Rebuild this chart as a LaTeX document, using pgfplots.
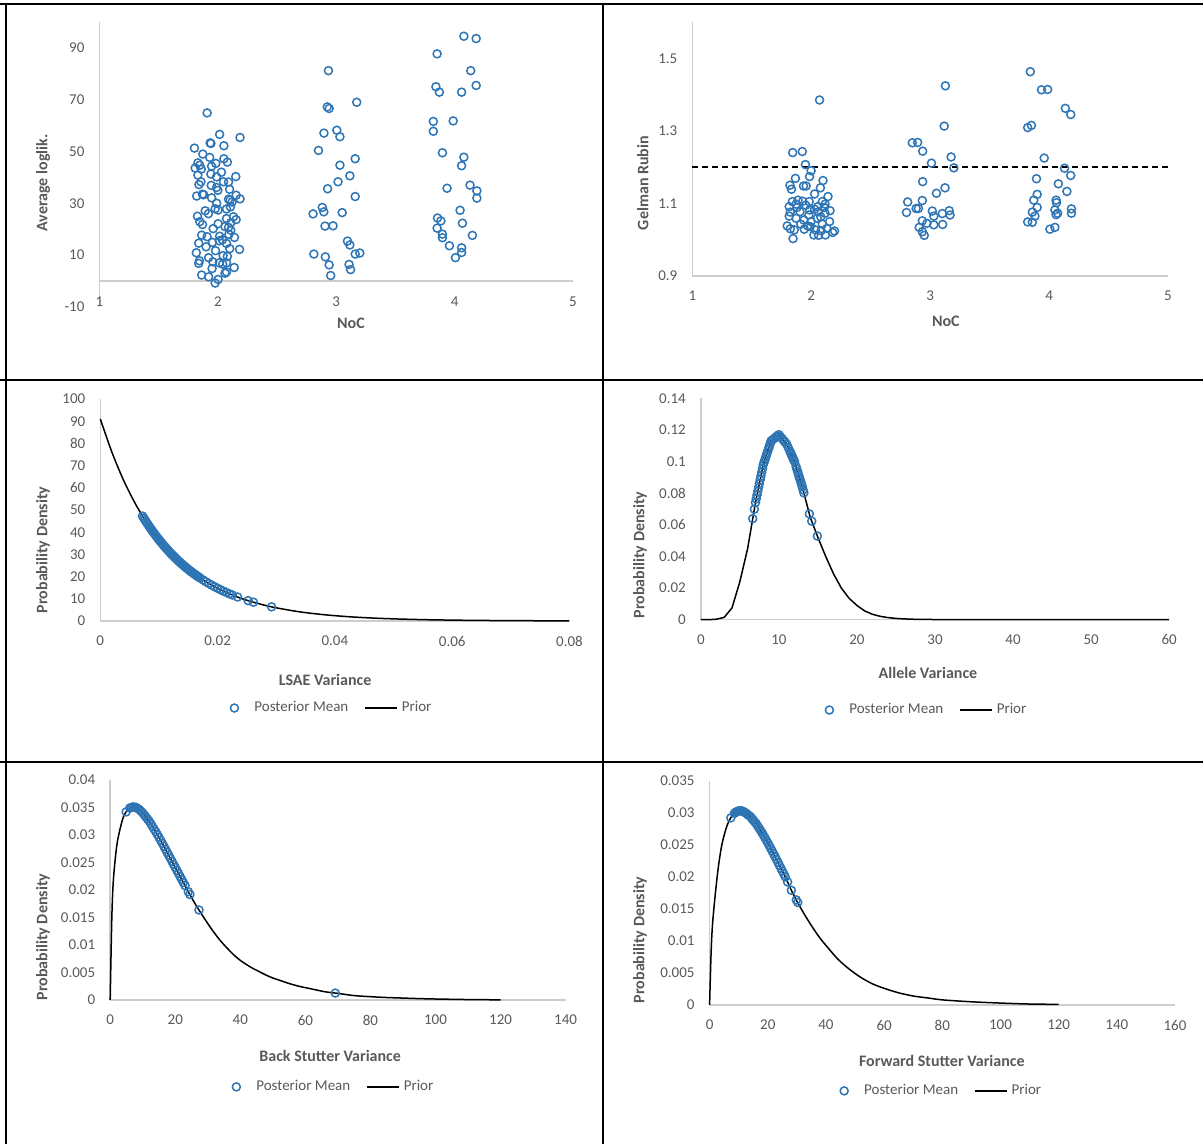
\documentclass[border=0pt]{standalone}
\usepackage{fontspec}
\setmainfont{Carlito}
\usepackage{pgfplots}
\pgfplotsset{compat=1.18}
\definecolor{myblue}{RGB}{46,117,182}
\definecolor{txtgray}{RGB}{89,89,89}
\definecolor{axgray}{RGB}{205,205,205}
\pgfplotsset{
  panel/.style={
    scale only axis,
    axis lines*=left,
    axis line style={draw=axgray, line width=0.75pt},
    tick style={draw=none},
    major tick length=0pt,
    tick label style={font=\fontsize{7.5}{9}\selectfont, text=txtgray},
    label style={font=\bfseries\fontsize{8}{10}\selectfont, text=txtgray},
    /pgf/number format/assume math mode=true,
    /pgf/number format/fixed,
    /pgf/number format/precision=3,
    /pgf/number format/1000 sep={},
    scaled ticks=false,
    clip=false,
    yticklabel style={xshift=-4pt},
    legend style={draw=none, fill=none, font=\fontsize{7.5}{9}\selectfont, text=txtgray,
      legend columns=2, anchor=center,
      /tikz/every even column/.append style={column sep=6pt}},
  },
  post/.style={only marks, mark=o, mark size=2pt,
    mark options={draw=myblue, line width=0.75pt},
    legend image code/.code={\draw[draw=myblue, line width=0.75pt] (2pt,0pt) circle (2pt); \path[draw=none, fill=none] (0pt,0pt) rectangle (10pt,0.1pt);}},
  prior/.style={black, line width=0.75pt, smooth,
    legend image code/.code={\draw[black, line width=0.75pt] (0pt,0pt) -- (16pt,0pt);}},
}
\begin{document}
\begin{tikzpicture}[x=0.5pt,y=0.5pt]
\path[use as bounding box] (0,0) rectangle (1203,1144);
\draw[line width=0.6pt] (0,1140) -- (1203,1140);
\draw[line width=1pt] (0,764) -- (1203,764);
\draw[line width=1pt] (0,382) -- (1203,382);
\draw[line width=1pt] (603,1140) -- (603,0);
\draw[line width=1pt] (6,1140) -- (6,0);

% ---------- Panel 1 ----------
\begin{axis}[panel, at={(49.75pt,418.55pt)}, anchor=south west,
  width=236.75pt, height=142.45pt,
  xmin=1, xmax=5, ymin=-10, ymax=100,
  xtick={1,2,3,4,5}, ytick={-10,10,30,50,70,90},
  x axis line style={draw=none},
  xticklabel style={yshift=8.5pt},
  xlabel={NoC}, ylabel={Average loglik.},
  xlabel style={at={(axis description cs:0.531,-0.0565)}, anchor=center},
  ylabel style={at={(axis description cs:-0.119,0.435)}, anchor=center},
]
\addplot[axgray, line width=0.75pt] coordinates {(1,0) (5,0)};
\addplot[post] table {
1.909 64.9
2.015 56.6
2.187 55.4
1.935 53.3
1.941 53.1
2.051 52.2
1.802 51.3
1.873 49.0
1.931 47.7
2.051 47.2
1.983 45.4
2.080 45.9
1.831 45.6
1.847 44.7
1.947 44.3
1.808 43.6
1.860 43.2
1.941 41.3
1.831 40.9
1.989 40.2
2.151 40.3
1.857 38.3
2.048 38.3
2.090 38.2
1.944 36.9
1.989 36.1
2.099 35.4
1.821 32.8
1.880 33.3
1.947 32.1
2.154 33.1
2.090 31.6
2.187 31.7
2.103 31.2
1.893 27.1
1.977 27.9
2.002 27.4
2.073 27.8
2.106 28.6
1.828 25.0
1.847 22.9
2.002 22.1
2.073 24.1
2.132 24.8
2.154 23.7
2.109 22.5
2.090 20.7
2.109 19.6
2.093 18.0
1.863 17.7
1.909 17.1
2.015 17.3
2.038 15.9
2.012 15.5
1.954 14.9
1.838 14.6
2.073 14.5
2.183 12.2
1.980 11.7
1.818 10.9
2.044 9.8
1.922 9.0
1.844 7.8
1.838 6.8
1.957 7.4
2.012 7.0
2.041 6.5
2.073 7.0
2.138 5.2
1.951 4.8
2.073 3.5
1.863 2.3
1.922 1.6
2.002 0.6
1.977 -0.8
1.870 33.5
2.120 30.5
1.960 20.2
2.060 21.0
2.100 12.5
1.900 13.2
2.060 3.0
1.870 21.8
2.000 35.0
2.140 16.8
1.840 37.2
1.920 26.0
2.080 9.5
2.030 42.0
1.990 30.0
2.934 81.2
2.924 67.2
2.940 66.6
3.173 69.0
3.005 58.2
2.896 57.1
3.031 55.7
2.850 50.4
3.160 47.2
3.031 44.7
3.115 40.6
3.015 38.3
2.927 35.6
3.160 32.6
2.882 28.4
2.895 26.7
2.804 25.9
3.050 26.4
2.905 21.2
2.973 21.3
3.095 15.4
3.115 13.9
3.160 10.4
3.199 10.8
2.811 10.4
2.908 9.3
2.940 6.2
3.108 6.4
3.121 4.4
2.953 2.1
4.078 94.5
4.182 93.6
3.852 87.7
4.136 81.2
3.842 75.0
3.871 72.9
4.182 75.5
4.059 72.9
3.820 61.6
3.988 61.8
3.820 57.8
3.897 49.5
4.078 47.8
4.059 44.5
4.130 37.0
3.936 35.8
4.188 34.8
4.188 32.0
4.046 27.3
3.855 24.3
3.884 23.2
4.066 22.3
3.852 20.4
3.897 18.1
3.897 16.7
4.150 17.6
3.956 13.6
4.059 12.8
4.059 11.0
4.007 9.0
};
\end{axis}

% ---------- Panel 2 ----------
\begin{axis}[panel, at={(346.15pt,434pt)}, anchor=south west,
  width=237.85pt, height=127pt,
  xmin=1, xmax=5, ymin=0.9, ymax=1.6,
  xtick={1,2,3,4,5}, ytick={0.9,1.1,1.3,1.5},
  xticklabel style={yshift=-4pt},
  y axis line style={draw=none},
  xlabel={NoC}, ylabel={Gelman Rubin},
  xlabel style={at={(axis description cs:0.533,-0.177)}, anchor=center},
  ylabel style={at={(axis description cs:-0.104,0.366)}, anchor=center},
]
\addplot[axgray, line width=0.75pt] coordinates {(1,0.9) (1,1.6)};
\addplot[black, line width=1pt, dash pattern=on 3pt off 2pt] coordinates {(1,1.2) (5,1.2)};
\addplot[post] table {
2.070 1.385
1.844 1.240
1.925 1.243
1.951 1.207
1.999 1.190
1.986 1.174
2.099 1.163
1.867 1.169
1.821 1.150
1.834 1.139
1.935 1.148
1.957 1.148
2.077 1.143
2.028 1.126
2.141 1.119
1.889 1.109
1.841 1.105
1.928 1.106
1.983 1.105
2.093 1.105
1.815 1.091
1.873 1.098
1.954 1.095
2.054 1.091
2.116 1.098
2.158 1.080
1.824 1.076
1.905 1.077
1.986 1.082
2.061 1.077
2.116 1.073
1.815 1.065
1.873 1.059
1.938 1.054
1.999 1.050
2.051 1.059
2.154 1.050
1.798 1.038
1.824 1.030
1.857 1.027
1.941 1.029
1.992 1.036
2.035 1.027
2.083 1.025
2.022 1.013
2.061 1.012
2.119 1.013
2.180 1.020
2.196 1.024
1.847 1.003
1.912 1.043
1.970 1.038
2.093 1.043
2.132 1.031
1.880 1.089
2.028 1.084
2.109 1.089
1.980 1.068
2.080 1.063
3.128 1.424
3.118 1.313
2.850 1.267
2.895 1.268
2.937 1.244
3.176 1.228
3.011 1.211
3.199 1.198
2.937 1.160
3.125 1.143
3.053 1.128
2.811 1.104
2.934 1.108
2.882 1.086
2.901 1.086
2.801 1.075
3.018 1.079
3.031 1.065
3.102 1.072
3.160 1.080
3.167 1.068
2.934 1.052
2.972 1.045
3.031 1.041
3.105 1.042
2.908 1.034
2.934 1.022
2.950 1.012
3.842 1.463
3.936 1.413
3.988 1.414
4.137 1.362
4.182 1.345
3.820 1.309
3.852 1.315
3.959 1.225
4.130 1.197
4.182 1.177
3.894 1.168
4.078 1.154
4.150 1.133
3.900 1.125
3.871 1.109
4.059 1.109
4.062 1.102
3.900 1.089
3.859 1.076
4.049 1.082
4.072 1.073
4.059 1.069
4.188 1.085
4.188 1.073
3.881 1.065
3.820 1.049
3.859 1.048
4.007 1.029
4.049 1.034
};
\end{axis}

% ---------- Panel 3 ----------
\begin{axis}[panel, at={(50.15pt,261.5pt)}, anchor=south west,
  width=234.6pt, height=111pt,
  xmin=0, xmax=0.08, ymin=0, ymax=100,
  xtick={0,0.02,0.04,0.06,0.08}, ytick={0,10,...,100},
  xticklabel style={yshift=-4pt},
  xlabel={LSAE Variance}, ylabel={Probability Density},
  xlabel style={at={(axis description cs:0.479,-0.266)}, anchor=center},
  ylabel style={at={(axis description cs:-0.122,0.32)}, anchor=center},
  legend style={at={(0.495,-0.392)}},
]
\addplot[post] table {
0.0072 47.26
0.0074 46.41
0.0076 45.57
0.0078 44.75
0.0080 43.94
0.0082 43.15
0.0084 42.37
0.0086 41.61
0.0088 40.86
0.0090 40.12
0.0092 39.40
0.0094 38.69
0.0096 37.99
0.0098 37.31
0.0100 36.63
0.0102 35.97
0.0104 35.33
0.0106 34.69
0.0108 34.06
0.0110 33.45
0.0112 32.85
0.0114 32.25
0.0116 31.67
0.0118 31.10
0.0120 30.54
0.0122 29.99
0.0124 29.45
0.0126 28.92
0.0128 28.40
0.0130 27.89
0.0132 27.38
0.0134 26.89
0.0136 26.41
0.0138 25.93
0.0140 25.46
0.0142 25.00
0.0144 24.55
0.0146 24.11
0.0148 23.68
0.0150 23.25
0.0152 22.83
0.0154 22.42
0.0156 22.02
0.0158 21.62
0.0160 21.23
0.0162 20.85
0.0164 20.47
0.0166 20.10
0.0168 19.74
0.0170 19.39
0.0175 18.53
0.0180 17.69
0.0185 16.90
0.0190 16.14
0.0195 15.42
0.0200 14.73
0.0205 14.07
0.0210 13.43
0.0215 12.83
0.0220 12.26
0.0225 11.71
0.0234 10.82
0.0252 9.18
0.0261 8.46
0.0292 6.38
};
\addlegendentry{Posterior Mean}
\addplot[prior] table {
0 91
0.002 75.9
0.004 63.2
0.006 52.7
0.008 43.9
0.010 36.6
0.012 30.5
0.014 25.5
0.016 21.2
0.018 17.7
0.020 14.7
0.022 12.3
0.024 10.2
0.026 8.54
0.028 7.12
0.030 5.93
0.034 4.12
0.038 2.87
0.042 1.99
0.046 1.38
0.050 0.96
0.055 0.61
0.060 0.39
0.065 0.25
0.070 0.155
0.075 0.098
0.080 0.063
};
\addlegendentry{Prior}
\end{axis}

% ---------- Panel 4 ----------
\begin{axis}[panel, at={(350.4pt,262.15pt)}, anchor=south west,
  width=234.2pt, height=110.7pt,
  xmin=0, xmax=60, ymin=0, ymax=0.14,
  xtick={0,10,...,60}, ytick={0,0.02,...,0.14},
  yticklabels={0,0.02,0.04,0.06,0.08,0.1,0.12,0.14},
  xticklabel style={yshift=-4pt},
  xlabel={Allele Variance}, ylabel={Probability Density},
  xlabel style={at={(axis description cs:0.485,-0.241)}, anchor=center},
  ylabel style={at={(axis description cs:-0.13,0.292)}, anchor=center},
  legend style={at={(0.484,-0.408)}},
]
\addplot[post] table {
6.65 0.0639
6.86 0.0699
7.0 0.0740
7.1 0.0764
7.2 0.0788
7.3 0.0812
7.4 0.0836
7.5 0.0860
7.6 0.0884
7.7 0.0908
7.8 0.0932
7.9 0.0956
8.0 0.0980
8.1 0.0995
8.2 0.1010
8.3 0.1025
8.4 0.1040
8.5 0.1055
8.6 0.1070
8.7 0.1085
8.8 0.1100
8.9 0.1115
9.0 0.1130
9.2 0.1138
9.4 0.1146
9.6 0.1154
9.8 0.1162
10.0 0.1170
10.2 0.1158
10.4 0.1146
10.6 0.1134
10.8 0.1122
11.0 0.1110
11.2 0.1088
11.4 0.1066
11.5 0.1055
11.6 0.1044
11.7 0.1033
11.8 0.1022
11.9 0.1011
12.0 0.1000
12.2 0.0968
12.3 0.0952
12.4 0.0936
12.5 0.0920
12.6 0.0904
12.7 0.0888
12.8 0.0872
12.9 0.0856
13.0 0.0840
13.1 0.0821
13.2 0.0802
13.9 0.0669
14.21 0.0623
14.93 0.0529
};
\addlegendentry{Posterior Mean}
\addplot[prior, sharp plot] table {
0 0
1 0
2 0.0003
3 0.0015
4 0.0075
5 0.024
6 0.045
7 0.074
8 0.098
9 0.113
10 0.117
11 0.111
12 0.100
13 0.084
14 0.065
15 0.052
16 0.040
17 0.029
18 0.020
19 0.0135
20 0.009
21 0.0055
22 0.0034
23 0.0021
24 0.0013
25 0.0008
26 0.0005
27 0.0003
28 0.0002
30 0.0001
32 0.0001
34 0
40 0
50 0
60 0
};
\addlegendentry{Prior}
\end{axis}

% ---------- Panel 5 ----------
\begin{axis}[panel, at={(55.1pt,72pt)}, anchor=south west,
  width=227.7pt, height=110pt,
  xmin=0, xmax=140, ymin=0, ymax=0.04,
  xtick={0,20,...,140}, ytick={0,0.005,...,0.04},
  yticklabels={0,0.005,0.01,0.015,0.02,0.025,0.03,0.035,0.04},
  xticklabel style={yshift=-4pt},
  xlabel={Back Stutter Variance}, ylabel={Probability Density},
  xlabel style={at={(axis description cs:0.483,-0.2545)}, anchor=center},
  ylabel style={at={(axis description cs:-0.1476,0.286)}, anchor=center},
  legend style={at={(0.4925,-0.395)}},
]
\addplot[post] table {
4.9 0.0342
6.0 0.0349
6.5 0.0350
7.0 0.0351
7.5 0.03505
8.0 0.0350
8.5 0.0348
9.0 0.0346
9.5 0.0343
10.0 0.0340
10.5 0.03363
11.0 0.03325
11.5 0.03288
12.0 0.0325
12.5 0.03203
13.0 0.03155
13.5 0.03108
14.0 0.0306
14.5 0.03008
15.0 0.02955
15.5 0.02903
16.0 0.0285
16.5 0.02795
17.0 0.0274
17.5 0.02685
18.0 0.0263
18.5 0.02575
19.0 0.0252
19.5 0.02465
20.0 0.0241
20.5 0.02355
21.0 0.0230
21.5 0.02245
22.0 0.0219
22.5 0.02135
23.0 0.0208
24.0 0.0197
24.5 0.01918
27.3 0.01637
69.2 0.00126
};
\addlegendentry{Posterior Mean}
\addplot[prior] table {
0 0
0.5 0.015
1 0.022
2 0.028
3 0.031
4 0.0332
5 0.0343
6 0.0349
7 0.0351
8 0.0350
9 0.0346
10 0.0340
12 0.0325
14 0.0306
16 0.0285
18 0.0263
20 0.0241
22 0.0219
24 0.0197
26 0.0176
28 0.0157
30 0.0139
32 0.0122
34 0.0107
36 0.0094
38 0.0082
40 0.0072
42 0.0064
44 0.0057
46 0.0051
48 0.0045
50 0.0040
52 0.0036
55 0.0030
58 0.0025
62 0.0020
66 0.0015
70 0.0012
75 0.0008
80 0.0006
85 0.00045
90 0.00035
95 0.00025
100 0.00018
110 0.00008
120 0.00003
};
\addlegendentry{Prior}
\end{axis}

% ---------- Panel 6 ----------
\begin{axis}[panel, at={(354.8pt,69.5pt)}, anchor=south west,
  width=232.7pt, height=112.15pt,
  xmin=0, xmax=160, ymin=0, ymax=0.035,
  xtick={0,20,...,160}, ytick={0,0.005,...,0.035},
  yticklabels={0,0.005,0.01,0.015,0.02,0.025,0.03,0.035},
  xticklabel style={yshift=-4pt},
  xlabel={Forward Stutter Variance}, ylabel={Probability Density},
  xlabel style={at={(axis description cs:0.499,-0.25)}, anchor=center},
  ylabel style={at={(axis description cs:-0.1496,0.29)}, anchor=center},
  legend style={at={(0.50,-0.383)}},
]
\addplot[post] table {
7.3 0.0292
8.5 0.0299
9.0 0.0301
9.5 0.0302
10.0 0.0303
10.5 0.0303
11.0 0.0303
11.5 0.0302
12.0 0.0301
12.5 0.02993
13.0 0.02975
13.5 0.02958
14.0 0.0294
14.5 0.02913
15.0 0.02885
15.5 0.02858
16.0 0.0283
16.5 0.02795
17.0 0.0276
17.5 0.02725
18.0 0.0269
18.5 0.0265
19.0 0.0261
19.5 0.0257
20.0 0.0253
20.5 0.02488
21.0 0.02445
21.5 0.02403
22.0 0.0236
22.5 0.02315
23.0 0.0227
23.5 0.02225
24.0 0.0218
24.5 0.02135
25.0 0.0209
25.5 0.02045
26.0 0.0200
26.8 0.0192
28.1 0.0179
29.8 0.0164
30.3 0.0160
};
\addlegendentry{Posterior Mean}
\addplot[prior] table {
0 0
0.5 0.008
1 0.0126
2 0.0175
3 0.0215
4 0.0245
5 0.0265
6 0.0280
7 0.0290
8 0.0297
9 0.0301
10 0.0303
11 0.0303
12 0.0301
14 0.0294
16 0.0283
18 0.0269
20 0.0253
22 0.0236
24 0.0218
26 0.0200
28 0.0180
30 0.0162
32 0.0146
34 0.0131
36 0.0117
38 0.0104
40 0.0093
44 0.0072
48 0.0056
52 0.0043
56 0.0033
60 0.0026
65 0.0019
70 0.0014
75 0.0011
80 0.0008
90 0.0005
100 0.0003
110 0.00015
120 0.0001
};
\addlegendentry{Prior}
\end{axis}
\end{tikzpicture}
\end{document}
